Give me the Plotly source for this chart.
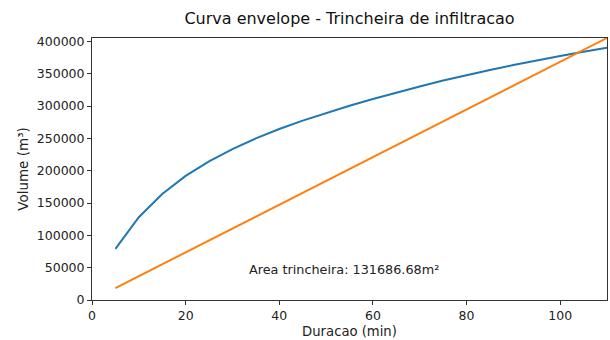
import plotly.graph_objects as go

duracao = [5, 10, 15, 20, 25, 30, 35, 40, 45, 50, 55, 60, 65, 70, 75, 80, 85, 90, 95, 100, 105, 110]
volume_chuva = [79000, 128000, 164000, 192000, 214500, 233500, 250000, 264500, 277500, 289500,
                300500, 311000, 321000, 330500, 339500, 348000, 356000, 363500, 370800, 377500,
                384000, 390300]
volume_infiltrado = [18428, 36855, 55283, 73710, 92138, 110565, 128993, 147420, 165848, 184275,
                     202703, 221130, 239558, 257985, 276413, 294840, 313268, 331695, 350123,
                     368550, 386978, 405405]
titulo = "Curva envelope - Trincheira de infiltracao"
texto_area = "Area trincheira: 131686.68m²"

FONT = "DejaVu Sans"
fig = go.Figure()
fig.add_trace(go.Scatter(x=duracao, y=volume_chuva, mode="lines",
                         line=dict(color="#1f77b4", width=2), showlegend=False))
fig.add_trace(go.Scatter(x=duracao, y=volume_infiltrado, mode="lines",
                         line=dict(color="#ff7f0e", width=2), showlegend=False))

fig.add_annotation(x=33.0, y=47000, xref="x", yref="y", text=texto_area, showarrow=False,
                   xanchor="left", yanchor="middle", font=dict(family=FONT, size=12.8, color="#222"))

fig.update_layout(
    width=610, height=340,
    margin=dict(l=92, r=3, t=38, b=40),
    paper_bgcolor="white", plot_bgcolor="white",
    font=dict(family=FONT, size=12.5, color="#222"),
    title=dict(text=titulo, x=0.5, xref="paper", xanchor="center", y=1 - 18 / 340,
               yanchor="middle", font=dict(family=FONT, size=16, color="#111")),
    xaxis=dict(range=[0, 110], tickvals=[0, 20, 40, 60, 80, 100], showgrid=False, zeroline=False,
               showline=True, linecolor="#333", linewidth=1, mirror=True, automargin=False,
               ticks="outside", ticklen=4, tickcolor="#333",
               title=dict(text="Duracao (min)", standoff=4, font=dict(size=13.2))),
    yaxis=dict(range=[0, 405405], tickvals=[0, 50000, 100000, 150000, 200000, 250000, 300000, 350000, 400000],
               tickformat="d", showgrid=False, zeroline=False, automargin=False,
               showline=True, linecolor="#333", linewidth=1, mirror=True,
               ticks="outside", ticklen=4, tickcolor="#333",
               title=dict(text="Volume (m³)", standoff=5, font=dict(size=13.5))),
)
fig.write_html("out.html", config={"displayModeBar": False},
               post_script="document.body.style.margin='0';")
